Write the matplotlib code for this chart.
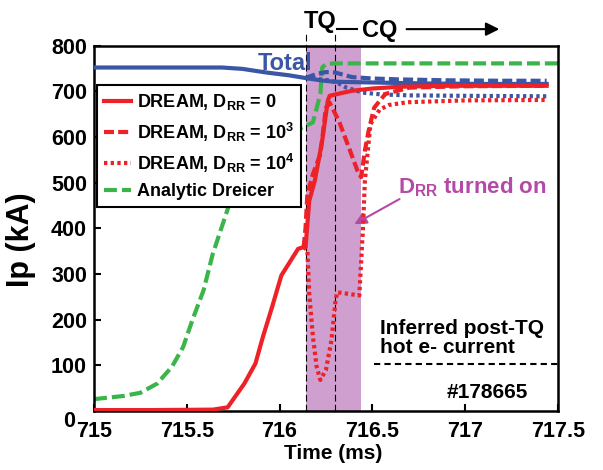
import matplotlib
matplotlib.use("Agg")
from matplotlib import pyplot as plt

plt.rcParams['font.family'] = ['Liberation Sans', 'DejaVu Sans']
plt.rcParams['font.weight'] = 'bold'
plt.rcParams['axes.labelweight'] = 'bold'
plt.rcParams['mathtext.fontset'] = 'custom'
plt.rcParams['mathtext.rm'] = 'Liberation Sans:bold'
plt.rcParams['mathtext.it'] = 'Liberation Sans:bold'
plt.rcParams['mathtext.bf'] = 'Liberation Sans:bold'

# total plasma current (blue)
t_total = [715.0, 715.3, 715.69, 715.8, 715.93, 716.05, 716.14, 716.22, 716.29, 716.4, 716.53, 716.8, 717.1, 717.44]
v_total = [752, 752, 752, 749, 741, 735, 729, 724, 721, 720, 719, 717, 716, 716]
t_tot3 = [716.14, 716.2, 716.25, 716.3, 716.39, 716.5, 716.64, 716.9, 717.2, 717.44]
v_tot3 = [729, 738, 742, 741, 731, 728, 726, 724, 723, 723]
t_tot4 = [716.14, 716.2, 716.27, 716.31, 716.36, 716.45, 716.55, 716.7, 717.0, 717.44]
v_tot4 = [729, 727, 724, 719, 708, 697, 693, 691, 690, 689]

# runaway current, DREAM
t_r0 = [715.0, 715.3, 715.64, 715.72, 715.81, 715.87, 715.91, 715.96, 716.01, 716.10, 716.13,
        716.14, 716.16, 716.19, 716.21, 716.23, 716.26, 716.27, 716.3, 716.39, 716.5, 716.65, 716.9, 717.44]
v_r0 = [2, 2, 3, 8, 60, 104, 162, 228, 297, 355, 359,
        358, 460, 504, 548, 592, 679, 690, 693, 701, 706, 710, 712, 712]
t_r3 = [716.13, 716.14, 716.15, 716.18, 716.22, 716.25, 716.27, 716.32, 716.38, 716.42, 716.44,
        716.46, 716.48, 716.51, 716.57, 716.70, 717.0, 717.44]
v_r3 = [359, 400, 475, 519, 562, 664, 675, 635, 570, 526, 512,
        570, 613, 664, 694, 708, 711, 712]
t_r4 = [716.13, 716.15, 716.16, 716.18, 716.20, 716.22, 716.25, 716.28, 716.30, 716.31, 716.43,
        716.45, 716.46, 716.49, 716.54, 716.59, 716.69, 717.0, 717.44]
v_r4 = [359, 352, 257, 162, 97, 68, 90, 155, 235, 260, 253,
        402, 504, 628, 660, 670, 676, 680, 681]

# analytic Dreicer
t_g = [715.0, 715.16, 715.25, 715.34, 715.42, 715.48, 715.53, 715.59, 715.64, 715.70, 715.73,
       715.78, 715.85, 715.95, 716.05, 716.13, 716.18, 716.22, 716.23, 716.25, 716.3, 717.5]
v_g = [26, 33, 40, 60, 97, 140, 199, 264, 344, 417, 454,
       500, 545, 585, 608, 622, 632, 694, 752, 760, 761, 761]

x_ticks = [715, 715.5, 716, 716.5, 717, 717.5]
x_ticklabels = ['715', '715.5', '716', '716.5', '717', '717.5']
y_ticks = [0, 100, 200, 300, 400, 500, 600, 700, 800]

tq_start, tq_end, drr_end = 716.14, 716.3, 716.44
hot_current = 103

red = '#ee2127'
green = '#3bb54a'
blue = '#3a56a5'
magenta = '#b54aa6'

fig = plt.figure(figsize=(6.03, 4.70), dpi=100)
ax = fig.add_axes([0.156, 0.1255, 0.769, 0.7775])

ax.axvspan(tq_start, drr_end, color='#cf9fcf', lw=0, zorder=0)
for tx in (tq_start, tq_end):
    ax.plot([tx, tx], [0, 828], color='k', lw=0.8, ls=(0, (6, 3)), clip_on=False, zorder=1)

lg, = ax.plot(t_g, v_g, color=green, lw=3, ls=(0, (3.1, 1.2)), zorder=2)
ax.plot(t_total, v_total, color=blue, lw=3, zorder=3)
ax.plot(t_tot3, v_tot3, color=blue, lw=3, ls=(0, (2.4, 1)), zorder=3)
ax.plot(t_tot4, v_tot4, color=blue, lw=3, ls=(0, (0.8, 0.8)), zorder=3)
l0, = ax.plot(t_r0, v_r0, color=red, lw=3, zorder=4)
l3, = ax.plot(t_r3, v_r3, color=red, lw=3, ls=(0, (2.4, 1)), zorder=4)
l4, = ax.plot(t_r4, v_r4, color=red, lw=3, ls=(0, (0.8, 0.8)), zorder=4)

ax.plot([716.51, 717.5], [hot_current, hot_current], color='k', lw=1.5, ls=(0, (3, 2)), zorder=2)

leg = ax.legend([l0, l3, l4, lg],
                [r'DREAM, D$_{\mathrm{RR}}$ = 0', r'DREAM, D$_{\mathrm{RR}}$ = 10$^3$',
                 r'DREAM, D$_{\mathrm{RR}}$ = 10$^4$', 'Analytic Dreicer'],
                loc='upper left', bbox_to_anchor=(0.006, 0.892), borderaxespad=0,
                fancybox=False, edgecolor='k', framealpha=1, fontsize=13,
                handlelength=1.5, handletextpad=0.3, labelspacing=0.45)
leg.get_frame().set_linewidth(1.5)

ax.text(716.03, 760, 'Total', color=blue, fontsize=17, ha='center', va='center', zorder=5)
ax.annotate('', xy=(716.39, 406), xytext=(716.66, 467),
            arrowprops=dict(arrowstyle='-|>', color=magenta, lw=1.5, mutation_scale=18))
ax.text(716.64, 489, r'D$_{\mathrm{RR}}$ turned on', color=magenta, fontsize=16, va='center')
ax.text(716.54, 160, 'Inferred post-TQ\nhot e- current', fontsize=15, va='center', linespacing=0.95)
ax.text(717.12, 41, '#178665', fontsize=15, ha='center', va='center')

# labels above the axes
ax.text(716.22, 853, 'TQ', fontsize=17, ha='center', va='center', clip_on=False)
ax.plot([716.31, 716.42], [836, 836], color='k', lw=1.5, clip_on=False)
ax.text(716.54, 834, 'CQ', fontsize=17, ha='center', va='center', clip_on=False)
ax.annotate('', xy=(717.2, 836), xytext=(716.67, 836), annotation_clip=False,
            arrowprops=dict(arrowstyle='-|>', color='k', lw=1.5, mutation_scale=20))

ax.set_xlim(715, 717.5)
ax.set_ylim(0, 800)
ax.set_xticks(x_ticks)
ax.set_xticklabels(x_ticklabels)
ax.set_yticks(y_ticks)
# the zero label sits lower-left in the original, drawn separately
ax.set_yticklabels([''] + [str(v) for v in y_ticks[1:]])
ax.text(-0.04, -0.03, '0', transform=ax.transAxes, fontsize=15.5, ha='right', va='center')
ax.tick_params(direction='in', length=5, width=1.5, labelsize=15.5)
ax.tick_params(axis='x', pad=7)
ax.tick_params(axis='y', pad=5)
for s in ax.spines.values():
    s.set_linewidth(1.8)

ax.set_xlabel('Time (ms)', fontsize=15)
ax.set_ylabel('Ip (kA)', fontsize=22)
ax.xaxis.set_label_coords(0.515, -0.09)
ax.yaxis.set_label_coords(-0.125, 0.47)

fig.savefig('out.png', dpi=100)
